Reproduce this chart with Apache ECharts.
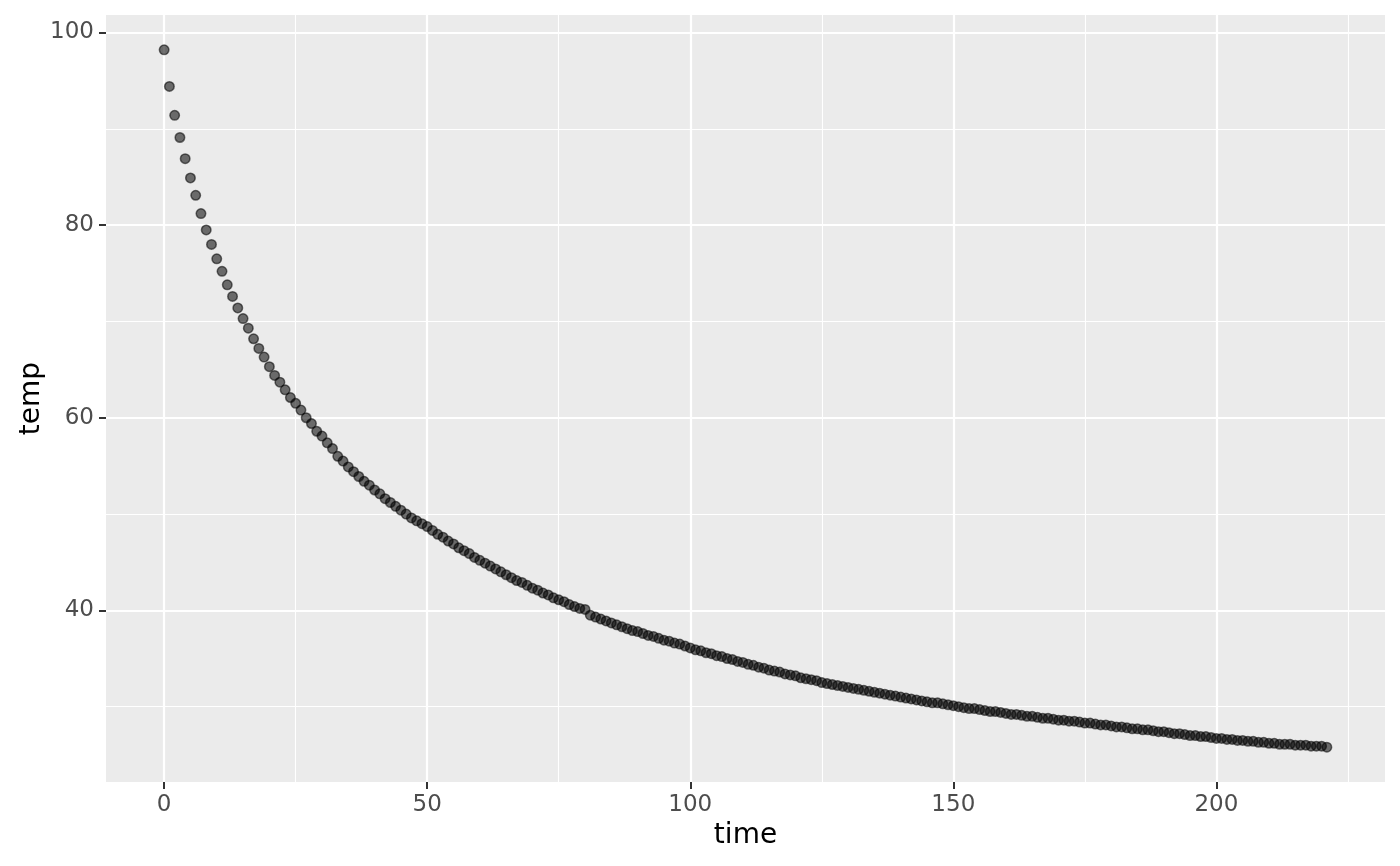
<!DOCTYPE html>
<html>
<head>
<meta charset="utf-8">
<script src="https://cdn.jsdelivr.net/npm/echarts@6/dist/echarts.min.js"></script>
<style>
  html, body { margin: 0; padding: 0; background: #fff; }
  #chart { width: 1400px; height: 866px; }
</style>
</head>
<body>
<div id="chart"></div>
<script>
// temp, one point per time step
const time = [
  0, 1, 2, 3, 4, 5, 6, 7, 8, 9,
  10, 11, 12, 13, 14, 15, 16, 17, 18, 19,
  20, 21, 22, 23, 24, 25, 26, 27, 28, 29,
  30, 31, 32, 33, 34, 35, 36, 37, 38, 39,
  40, 41, 42, 43, 44, 45, 46, 47, 48, 49,
  50, 51, 52, 53, 54, 55, 56, 57, 58, 59,
  60, 61, 62, 63, 64, 65, 66, 67, 68, 69,
  70, 71, 72, 73, 74, 75, 76, 77, 78, 79,
  80, 81, 82, 83, 84, 85, 86, 87, 88, 89,
  90, 91, 92, 93, 94, 95, 96, 97, 98, 99,
  100, 101, 102, 103, 104, 105, 106, 107, 108, 109,
  110, 111, 112, 113, 114, 115, 116, 117, 118, 119,
  120, 121, 122, 123, 124, 125, 126, 127, 128, 129,
  130, 131, 132, 133, 134, 135, 136, 137, 138, 139,
  140, 141, 142, 143, 144, 145, 146, 147, 148, 149,
  150, 151, 152, 153, 154, 155, 156, 157, 158, 159,
  160, 161, 162, 163, 164, 165, 166, 167, 168, 169,
  170, 171, 172, 173, 174, 175, 176, 177, 178, 179,
  180, 181, 182, 183, 184, 185, 186, 187, 188, 189,
  190, 191, 192, 193, 194, 195, 196, 197, 198, 199,
  200, 201, 202, 203, 204, 205, 206, 207, 208, 209,
  210, 211, 212, 213, 214, 215, 216, 217, 218, 219,
  220, 221
];
const temp = [
  98.2, 94.4, 91.4, 89.1, 86.9, 84.9, 83.1, 81.2, 79.5, 78.0,
  76.5, 75.2, 73.8, 72.6, 71.4, 70.3, 69.3, 68.2, 67.2, 66.3,
  65.3, 64.4, 63.7, 62.9, 62.1, 61.5, 60.8, 60.0, 59.4, 58.6,
  58.1, 57.4, 56.8, 56.0, 55.5, 54.9, 54.4, 53.9, 53.4, 53.0,
  52.5, 52.1, 51.6, 51.2, 50.8, 50.4, 50.0, 49.6, 49.3, 49.0,
  48.7, 48.3, 47.9, 47.6, 47.2, 46.9, 46.5, 46.2, 45.9, 45.5,
  45.2, 44.9, 44.6, 44.3, 44.0, 43.7, 43.4, 43.1, 42.9, 42.6,
  42.3, 42.1, 41.8, 41.6, 41.3, 41.1, 40.9, 40.6, 40.4, 40.2,
  40.1, 39.5, 39.3, 39.1, 38.9, 38.7, 38.5, 38.3, 38.1, 37.9,
  37.8, 37.6, 37.4, 37.3, 37.1, 36.9, 36.8, 36.6, 36.5, 36.3,
  36.1, 35.9, 35.8, 35.6, 35.5, 35.3, 35.2, 35.0, 34.9, 34.7,
  34.6, 34.4, 34.3, 34.1, 34.0, 33.8, 33.7, 33.6, 33.4, 33.3,
  33.2, 33.0, 32.9, 32.8, 32.7, 32.5, 32.4, 32.3, 32.2, 32.1,
  32.0, 31.9, 31.8, 31.7, 31.6, 31.5, 31.4, 31.3, 31.2, 31.1,
  31.0, 30.9, 30.8, 30.7, 30.6, 30.5, 30.4, 30.4, 30.3, 30.2,
  30.1, 30.0, 29.9, 29.8, 29.8, 29.7, 29.6, 29.5, 29.5, 29.4,
  29.3, 29.2, 29.2, 29.1, 29.0, 29.0, 28.9, 28.8, 28.8, 28.7,
  28.6, 28.6, 28.5, 28.5, 28.4, 28.3, 28.3, 28.2, 28.1, 28.1,
  28.0, 27.9, 27.9, 27.8, 27.7, 27.7, 27.6, 27.6, 27.5, 27.4,
  27.4, 27.3, 27.2, 27.2, 27.1, 27.0, 27.0, 26.9, 26.9, 26.8,
  26.7, 26.7, 26.6, 26.6, 26.5, 26.5, 26.4, 26.4, 26.3, 26.3,
  26.2, 26.2, 26.1, 26.1, 26.1, 26.0, 26.0, 26.0, 25.9, 25.9,
  25.9, 25.8
];

const xTicks = [0, 50, 100, 150, 200];
const xMinor = [25, 75, 125, 175, 225];
const yTicks = [40, 60, 80, 100];
const yMinor = [30, 50, 70, 90];

const font = 'DejaVu Sans';

const gridLines = [].concat(
  xMinor.map(v => ({ xAxis: v, lineStyle: { width: 1.1 } })),
  yMinor.map(v => ({ yAxis: v, lineStyle: { width: 1.1 } })),
  xTicks.map(v => ({ xAxis: v, lineStyle: { width: 2.2 } })),
  yTicks.map(v => ({ yAxis: v, lineStyle: { width: 2.2 } }))
);

const chart = echarts.init(document.getElementById('chart'));
chart.setOption({
  animation: false,
  grid: {
    left: 106, top: 15, width: 1279, height: 767,
    show: true, backgroundColor: '#EBEBEB', borderWidth: 0
  },
  xAxis: {
    type: 'value',
    min: -11.05, max: 232.05,
    name: 'time', nameLocation: 'middle', nameGap: 40,
    nameMoveOverlap: false,
    nameTextStyle: { fontFamily: font, fontSize: 28, color: '#000' },
    axisLine: { show: false, onZero: false },
    axisTick: { show: true, length: 7, customValues: xTicks,
      lineStyle: { color: '#333', width: 2 } },
    axisLabel: { customValues: xTicks, margin: 12,
      fontFamily: font, fontSize: 23, color: '#4D4D4D' },
    splitLine: { show: false }
  },
  yAxis: {
    type: 'value',
    min: 22.18, max: 101.82,
    name: 'temp', nameLocation: 'middle', nameGap: 60,
    nameMoveOverlap: false,
    nameTextStyle: { fontFamily: font, fontSize: 28, color: '#000' },
    axisLine: { show: false, onZero: false },
    axisTick: { show: true, length: 7, customValues: yTicks,
      lineStyle: { color: '#333', width: 2 } },
    axisLabel: { customValues: yTicks, margin: 12,
      fontFamily: font, fontSize: 23, color: '#4D4D4D' },
    splitLine: { show: false }
  },
  series: [
    {
      type: 'scatter',
      data: [],
      z: 0,
      silent: true,
      markLine: {
        z: 0,
        silent: true,
        symbol: 'none',
        label: { show: false },
        lineStyle: { color: '#FFFFFF', type: 'solid' },
        data: gridLines
      }
    },
    {
      type: 'scatter',
      z: 10,
      data: time.map((t, i) => [t, temp[i]]),
      symbol: 'circle',
      symbolSize: 9.5,
      itemStyle: {
        color: 'rgba(0,0,0,0.55)',
        borderColor: 'rgba(0,0,0,0.55)',
        borderWidth: 1.5,
        opacity: 1
      }
    }
  ]
});
</script>
</body>
</html>
